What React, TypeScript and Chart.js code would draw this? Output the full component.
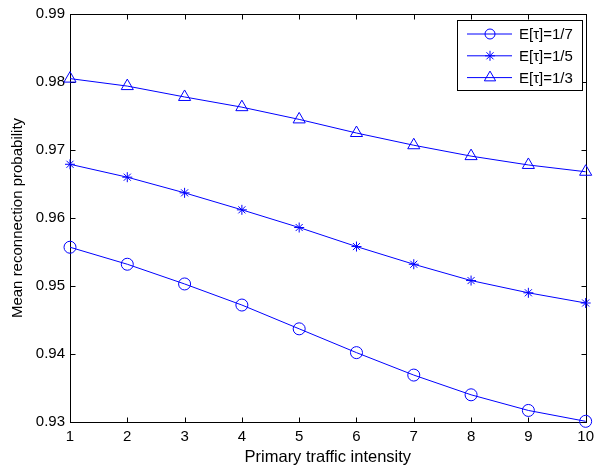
import React, { useEffect, useRef } from 'react';
import { Chart, registerables } from 'chart.js';

Chart.register(...registerables);

const xValues = [1, 2, 3, 4, 5, 6, 7, 8, 9, 10];
const seriesLabels = ['E[τ]=1/7', 'E[τ]=1/5', 'E[τ]=1/3'];
const tau17 = [0.9557, 0.9532, 0.9503, 0.9472, 0.9437, 0.9402, 0.9369, 0.934, 0.9317, 0.9301];
const tau15 = [0.9679, 0.966, 0.9637, 0.9612, 0.9586, 0.9558, 0.9532, 0.9508, 0.949, 0.9475];
const tau13 = [0.9805, 0.9794, 0.9778, 0.9763, 0.9745, 0.9725, 0.9707, 0.9691, 0.9678, 0.9668];
const seriesValues = [tau17, tau15, tau13];
const pointStyles = ['circle', 'star', 'triangle'];
const pointRadii = [6, 5, 7];
const legendRadii = [5, 5, 6.5];
const xTitle = 'Primary traffic intensity';
const yTitle = 'Mean reconnection probability';

const FONT = '"Liberation Sans", Arial, Helvetica, sans-serif';
const BLUE = '#0000ff';

function drawMarker(ctx: CanvasRenderingContext2D, style: string, x: number, y: number, r: number) {
  ctx.beginPath();
  if (style === 'circle') {
    ctx.arc(x, y, r, 0, Math.PI * 2);
  } else if (style === 'triangle') {
    for (let i = 0; i < 3; i++) {
      const a = (i * 2 * Math.PI) / 3;
      const px = x + Math.sin(a) * r;
      const py = y - Math.cos(a) * r;
      if (i === 0) ctx.moveTo(px, py);
      else ctx.lineTo(px, py);
    }
    ctx.closePath();
  } else if (style === 'star') {
    for (let i = 0; i < 4; i++) {
      const a = (i * Math.PI) / 4;
      ctx.moveTo(x + Math.cos(a) * r, y + Math.sin(a) * r);
      ctx.lineTo(x - Math.cos(a) * r, y - Math.sin(a) * r);
    }
  }
  ctx.stroke();
}

const framePlugin = {
  id: 'frame',
  beforeDatasetsDraw(chart: any) {
    const { ctx, chartArea, scales } = chart;
    const left = Math.round(chartArea.left) + 0.5;
    const right = Math.round(chartArea.right) + 0.5;
    const top = Math.round(chartArea.top) + 0.5;
    const bottom = Math.round(chartArea.bottom) + 0.5;
    ctx.save();
    ctx.strokeStyle = '#000';
    ctx.lineWidth = 1;
    ctx.strokeRect(left, top, right - left, bottom - top);
    const tl = 5;
    ctx.beginPath();
    scales.x.ticks.forEach((t: any) => {
      const px = Math.round(scales.x.getPixelForValue(t.value)) + 0.5;
      ctx.moveTo(px, bottom);
      ctx.lineTo(px, bottom - tl);
      ctx.moveTo(px, top);
      ctx.lineTo(px, top + tl);
    });
    scales.y.ticks.forEach((t: any) => {
      const py = Math.round(scales.y.getPixelForValue(t.value)) + 0.5;
      ctx.moveTo(left, py);
      ctx.lineTo(left + tl, py);
      ctx.moveTo(right, py);
      ctx.lineTo(right - tl, py);
    });
    ctx.stroke();
    ctx.restore();
  },
};

const legendPlugin = {
  id: 'matlabLegend',
  afterDraw(chart: any) {
    const { ctx } = chart;
    const bx = 457.5;
    const by = 20.5;
    const bw = 125;
    const bh = 70;
    ctx.save();
    ctx.fillStyle = '#fff';
    ctx.fillRect(bx, by, bw, bh);
    ctx.strokeStyle = '#000';
    ctx.lineWidth = 1;
    ctx.strokeRect(bx, by, bw, bh);
    ctx.font = `15px ${FONT}`;
    ctx.textBaseline = 'middle';
    ctx.textAlign = 'left';
    seriesLabels.forEach((label, i) => {
      const y = 34 + i * 21.8;
      ctx.strokeStyle = BLUE;
      ctx.lineWidth = 1;
      ctx.beginPath();
      ctx.moveTo(467, y);
      ctx.lineTo(512, y);
      ctx.stroke();
      drawMarker(ctx, pointStyles[i], 490, y, legendRadii[i]);
      ctx.fillStyle = '#000';
      ctx.fillText(label, 519, y + 1);
    });
    ctx.restore();
  },
};

export default function App() {
  const canvasRef = useRef<HTMLCanvasElement | null>(null);

  useEffect(() => {
    if (!canvasRef.current) return;
    const chart = new Chart(canvasRef.current, {
      type: 'line',
      data: {
        labels: xValues,
        datasets: seriesValues.map((vals, i) => ({
          label: seriesLabels[i],
          data: vals.map((v, j) => ({ x: xValues[j], y: v })),
          borderColor: BLUE,
          borderWidth: 1,
          backgroundColor: 'transparent',
          pointStyle: pointStyles[i] as any,
          pointRadius: pointRadii[i],
          pointBorderColor: BLUE,
          pointBackgroundColor: 'transparent',
          pointBorderWidth: 1,
          tension: 0,
          fill: false,
          clip: false as any,
        })),
      },
      plugins: [framePlugin, legendPlugin],
      options: {
        animation: false,
        responsive: false,
        maintainAspectRatio: false,
        layout: { padding: { top: 12, right: 9, left: 0, bottom: 0 } },
        plugins: {
          legend: { display: false },
          tooltip: { enabled: false },
        },
        scales: {
          x: {
            type: 'linear',
            min: 1,
            max: 10,
            afterFit: (s: any) => {
              s.height = 48;
            },
            grid: { display: false, drawTicks: false },
            border: { display: false },
            ticks: {
              stepSize: 1,
              padding: 6,
              color: '#000',
              font: { family: FONT, size: 15 },
              maxRotation: 0,
            },
            title: {
              display: true,
              text: xTitle,
              color: '#000',
              font: { family: FONT, size: 16.5 },
              padding: { top: 0, bottom: 3 },
            },
          },
          y: {
            type: 'linear',
            min: 0.93,
            max: 0.99,
            afterFit: (s: any) => {
              s.width = 70;
            },
            grid: { display: false, drawTicks: false },
            border: { display: false },
            ticks: {
              stepSize: 0.01,
              padding: 5,
              color: '#000',
              font: { family: FONT, size: 15 },
              callback: (v: any) => Number(v).toFixed(2),
            },
            title: {
              display: true,
              text: yTitle,
              color: '#000',
              font: { family: FONT, size: 15 },
              padding: { top: 9, bottom: 0 },
            },
          },
        },
      },
    });
    return () => chart.destroy();
  }, []);

  return (
    <div style={{ position: 'absolute', left: 0, top: 0, width: 600, height: 470, background: '#fff' }}>
      <canvas ref={canvasRef} width={600} height={470} style={{ display: 'block' }} />
    </div>
  );
}
